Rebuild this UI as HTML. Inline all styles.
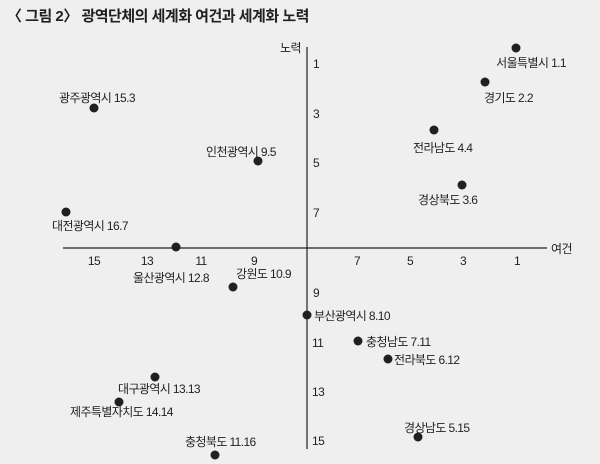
<!DOCTYPE html>
<html><head><meta charset="utf-8"><style>
html,body{margin:0;padding:0;background:#efefef;}
svg{display:block;font-family:"Liberation Sans","Noto Sans CJK KR",sans-serif;}
</style></head><body>
<svg width="600" height="464" viewBox="0 0 600 464">
<rect width="600" height="464" fill="#efefef"/>
<text x="7" y="21" font-size="15" font-weight="bold" fill="#231f20" letter-spacing="-0.5">〈 그림 2〉 광역단체의 세계화 여건과 세계화 노력</text>
<line x1="307" y1="47" x2="307" y2="449" stroke="#231f20" stroke-width="1.2"/>
<line x1="63" y1="248" x2="547" y2="248" stroke="#231f20" stroke-width="1.2"/>
<g font-size="12" fill="#231f20" letter-spacing="-0.6">
<text x="280" y="52">노력</text>
<text x="551" y="253">여건</text>
<g text-anchor="middle">
<text x="94" y="265">15</text><text x="147" y="265">13</text><text x="201" y="265">11</text><text x="254" y="265">9</text>
<text x="357" y="265">7</text><text x="410" y="265">5</text><text x="463" y="265">3</text><text x="517" y="265">1</text>
</g>
<text x="313" y="68">1</text><text x="313" y="118">3</text><text x="313" y="167">5</text><text x="313" y="217">7</text>
<text x="313" y="297">9</text><text x="312" y="347">11</text><text x="312" y="396">13</text><text x="312" y="445">15</text>
<text x="566" y="67" text-anchor="end">서울특별시 1.1</text>
<text x="484" y="102">경기도 2.2</text>
<text x="59" y="102">광주광역시 15.3</text>
<text x="413" y="152">전라남도 4.4</text>
<text x="206" y="156">인천광역시 9.5</text>
<text x="418" y="204">경상북도 3.6</text>
<text x="52" y="230">대전광역시 16.7</text>
<text x="133" y="282">울산광역시 12.8</text>
<text x="236" y="278">강원도 10.9</text>
<text x="314" y="320">부산광역시 8.10</text>
<text x="366" y="346">충청남도 7.11</text>
<text x="394" y="364">전라북도 6.12</text>
<text x="118" y="393">대구광역시 13.13</text>
<text x="70" y="416">제주특별자치도 14.14</text>
<text x="404" y="432">경상남도 5.15</text>
<text x="185" y="446">충청북도 11.16</text>
</g>
<g fill="#231f20">
<circle cx="516" cy="48" r="4.5"/><circle cx="485" cy="82" r="4.5"/><circle cx="94" cy="108" r="4.5"/>
<circle cx="434" cy="130" r="4.5"/><circle cx="258" cy="161" r="4.5"/><circle cx="462" cy="185" r="4.5"/>
<circle cx="66" cy="212" r="4.5"/><circle cx="176" cy="247" r="4.5"/><circle cx="233" cy="287" r="4.5"/>
<circle cx="307" cy="315" r="4.5"/><circle cx="358" cy="341" r="4.5"/><circle cx="388" cy="359" r="4.5"/>
<circle cx="155" cy="377" r="4.5"/><circle cx="119" cy="402" r="4.5"/><circle cx="418" cy="437" r="4.5"/>
<circle cx="215" cy="455" r="4.5"/>
</g>
</svg>
</body></html>
